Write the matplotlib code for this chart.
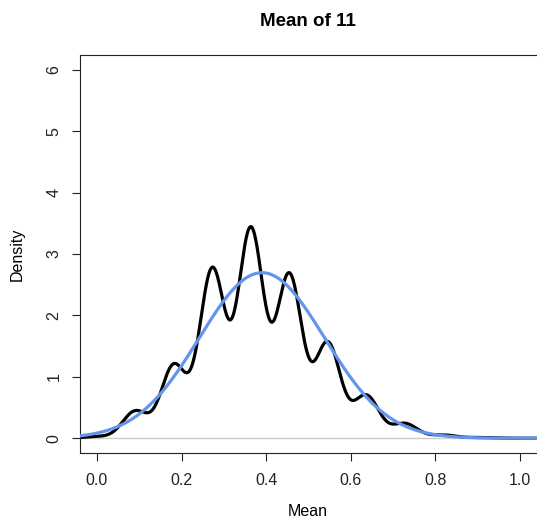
import numpy as np
import matplotlib.pyplot as plt

plt.rcParams['font.family'] = ['Liberation Sans', 'DejaVu Sans']

k_values = np.arange(12) / 11
proportions = [0.002, 0.033, 0.089, 0.206, 0.255, 0.199,
               0.116, 0.052, 0.018, 0.004, 0.001, 0.0]
bandwidth = 0.030

# normal approximation (blue curve)
norm_mean = 0.39
norm_sd = 0.148

x_ticks = [0.0, 0.2, 0.4, 0.6, 0.8, 1.0]
y_ticks = [0, 1, 2, 3, 4, 5, 6]


def kde(x):
    d = np.zeros_like(x)
    for c, w in zip(k_values, proportions):
        d += w * np.exp(-0.5 * ((x - c) / bandwidth) ** 2) / (bandwidth * np.sqrt(2 * np.pi))
    return d


def main():
    fig = plt.figure(figsize=(5.37, 5.28), dpi=100)
    ax = fig.add_axes([80 / 537, 75 / 528, 457 / 537, 398 / 528])

    xs = np.linspace(-0.1, 1.1, 1200)
    ax.axhline(0, color='#cccccc', lw=1.0, zorder=1)
    ax.plot(xs, kde(xs), color='black', lw=2.3, zorder=2)
    normal = np.exp(-0.5 * ((xs - norm_mean) / norm_sd) ** 2) / (norm_sd * np.sqrt(2 * np.pi))
    ax.plot(xs, normal, color='#6495ED', lw=2.3, zorder=3)

    ax.set_xlim(-0.04, 1.04)
    ax.set_ylim(-0.24, 6.24)
    ax.set_xticks(x_ticks)
    ax.set_xticklabels(['%.1f' % t for t in x_ticks])
    ax.set_yticks(y_ticks)
    ax.set_yticklabels([str(t) for t in y_ticks], rotation=90, va='center')
    ax.tick_params(direction='out', length=5.5, width=0.8, labelsize=11.5, colors='#222222')
    ax.tick_params(axis='x', pad=9)
    ax.tick_params(axis='y', pad=8)
    for s in ax.spines.values():
        s.set_linewidth(0.8)
        s.set_color('#222222')
    ax.spines['right'].set_visible(False)

    fig.text(308 / 537, 1 - 22 / 528, 'Mean of 11', ha='center', va='center',
             fontsize=13.5, fontweight='bold')
    fig.text(308 / 537, 1 - 512 / 528, 'Mean', ha='center', va='center', fontsize=11.5)
    fig.text(17 / 537, 1 - 254 / 528, 'Density', ha='center', va='center',
             fontsize=11.5, rotation=90)

    fig.savefig('out.png', dpi=100)


if __name__ == '__main__':
    main()
